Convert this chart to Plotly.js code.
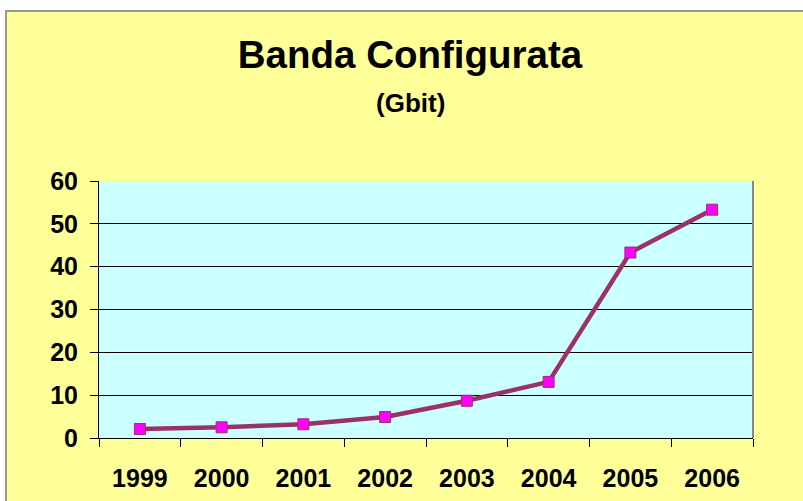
<!DOCTYPE html>
<html>
<head>
<meta charset="utf-8">
<script src="https://cdn.plot.ly/plotly-3.0.1.min.js"></script>
<style>
  html, body { margin: 0; padding: 0; background: #ffffff; width: 803px; height: 501px; overflow: hidden; }
  #wrap { position: absolute; left: 5px; top: 10px; border-left: 2px solid #999999; border-top: 2px solid #999999; }
  #chart { width: 796px; height: 489px; }
</style>
</head>
<body>
<div id="wrap"><div id="chart"></div></div>
<script>
const years = ['1999', '2000', '2001', '2002', '2003', '2004', '2005', '2006'];
const banda = [2.1, 2.5, 3.2, 4.9, 8.7, 13.1, 43.3, 53.3];
const yTicks = [0, 10, 20, 30, 40, 50, 60];

const fontFam = 'Liberation Sans, Arial, sans-serif';

const trace = {
  type: 'scatter',
  mode: 'lines+markers',
  x: years,
  y: banda,
  line: { color: '#993366', width: 4.5 },
  marker: { symbol: 'square', size: 11, color: '#FF00FF', line: { color: '#993366', width: 1 } },
  showlegend: false,
  hoverinfo: 'x+y'
};

const layout = {
  width: 796,
  height: 489,
  paper_bgcolor: '#FFFF99',
  plot_bgcolor: '#CCFFFF',
  margin: { l: 92, r: 50, t: 169, b: 63 },
  title: {
    text: 'Banda Configurata',
    font: { family: fontFam, size: 38.5, color: '#000000', weight: 'bold' },
    x: 403 / 796, xref: 'container', xanchor: 'center',
    y: 1 - 43 / 489, yref: 'container', yanchor: 'middle'
  },
  annotations: [{
    text: '(Gbit)',
    xref: 'paper', yref: 'paper',
    x: (403 - 92) / 654, y: 1 + (169 - 91) / 257,
    xanchor: 'center', yanchor: 'middle',
    showarrow: false,
    font: { family: fontFam, size: 26, color: '#000000', weight: 'bold' }
  }],
  xaxis: {
    type: 'category',
    range: [-0.5, 7.5],
    tickson: 'boundaries',
    ticks: 'outside',
    ticklen: 8,
    tickcolor: '#000000',
    tickwidth: 1,
    showline: true,
    linecolor: '#000000',
    linewidth: 1,
    showgrid: false,
    ticklabelstandoff: 18,
    tickfont: { family: fontFam, size: 25, color: '#000000', weight: 'bold' }
  },
  yaxis: {
    range: [0, 60],
    tickvals: yTicks,
    ticktext: yTicks.map(String),
    ticks: 'outside',
    ticklen: 8,
    tickcolor: '#000000',
    tickwidth: 1,
    showline: true,
    linecolor: '#000000',
    linewidth: 1,
    showgrid: true,
    gridcolor: '#000000',
    gridwidth: 1,
    zeroline: false,
    ticklabelstandoff: 7,
    tickfont: { family: fontFam, size: 25, color: '#000000', weight: 'bold' }
  },
  shapes: [{
    type: 'line', xref: 'paper', yref: 'paper',
    x0: 1, x1: 1, y0: 0, y1: 1,
    line: { color: '#888888', width: 2 }
  }]
};

Plotly.newPlot('chart', [trace], layout, { displayModeBar: false, staticPlot: true });
</script>
</body>
</html>
